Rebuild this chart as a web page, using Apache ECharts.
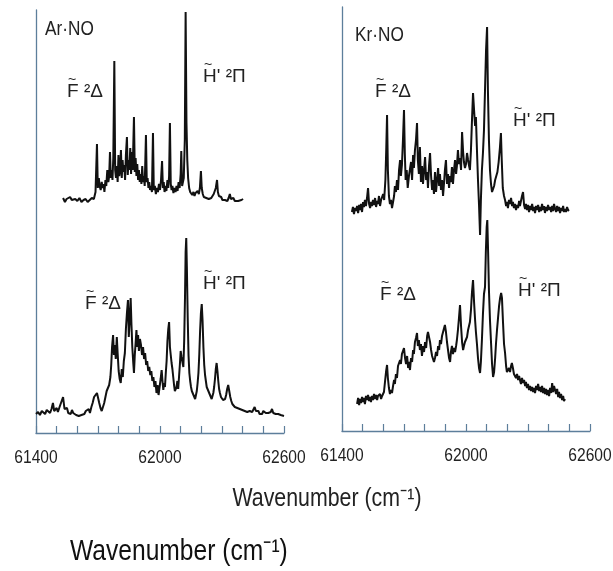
<!DOCTYPE html>
<html>
<head>
<meta charset="utf-8">
<script src="https://cdn.jsdelivr.net/npm/echarts@6/dist/echarts.min.js"></script>
<style>
  html, body { margin: 0; background: #fff; }
  #chart { width: 613px; height: 571px; }
</style>
</head>
<body>
<div id="chart"></div>
<script>
// wavenumber (cm-1) vs. signal (arbitrary units, 0 = trace baseline)
const tickLabels = [61400, 62000, 62600];

const arNoUpper = [
  [61531, 2], [61540, -2], [61548, 1], [61556, -1], [61565, 3], [61573, 0], [61582, -2], [61590, 1],
  [61600, -1], [61610, 2], [61620, -2], [61630, 0], [61640, 1], [61650, -2], [61660, 0], [61670, 2],
  [61680, 1], [61688, 8], [61695, 56], [61699, 12], [61704, 22], [61708, 14], [61713, 10], [61718, 18],
  [61722, 12], [61727, 16], [61731, 8], [61736, 20], [61740, 14], [61745, 30], [61750, 18], [61754, 24],
  [61758, 48], [61762, 22], [61766, 30], [61770, 20], [61774, 42], [61779, 139], [61783, 30], [61787, 22],
  [61791, 34], [61795, 18], [61799, 45], [61803, 24], [61807, 30], [61811, 50], [61815, 22], [61819, 40],
  [61823, 28], [61827, 35], [61831, 20], [61835, 45], [61840, 63], [61844, 25], [61848, 40], [61852, 30],
  [61856, 52], [61860, 26], [61864, 48], [61868, 30], [61874, 83], [61878, 28], [61882, 42], [61886, 24],
  [61890, 36], [61894, 20], [61898, 30], [61902, 18], [61906, 26], [61910, 16], [61914, 34], [61918, 18],
  [61922, 24], [61926, 14], [61932, 65], [61936, 18], [61940, 22], [61944, 12], [61948, 18], [61952, 10],
  [61956, 14], [61961, 8], [61966, 67], [61970, 10], [61975, 14], [61980, 6], [61985, 12], [61990, 8],
  [61995, 16], [62000, 10], [62005, 20], [62010, 39], [62014, 12], [62018, 18], [62022, 8], [62027, 14],
  [62031, 9], [62036, 20], [62040, 12], [62044, 24], [62048, 77], [62052, 16], [62056, 10], [62060, 14],
  [62065, 7], [62070, 12], [62075, 8], [62080, 14], [62085, 9], [62090, 18], [62095, 12], [62100, 26],
  [62103, 49], [62107, 14], [62111, 12], [62115, 22], [62120, 60], [62124, 188], [62128, 78], [62132, 40],
  [62136, 22], [62141, 12], [62146, 8], [62151, 10], [62156, 5], [62162, 8], [62167, 4], [62172, 7],
  [62177, 5], [62182, 9], [62188, 6], [62193, 12], [62198, 29], [62202, 12], [62207, 6], [62212, 3],
  [62218, 5], [62224, 2], [62230, 4], [62236, 1], [62242, 3], [62248, 2], [62254, 4], [62260, 6],
  [62265, 8], [62270, 12], [62276, 20], [62280, 8], [62285, 4], [62290, 2], [62296, 3], [62302, 0],
  [62308, 2], [62314, 0], [62320, 1], [62326, -1], [62332, 2], [62338, 6], [62343, 1], [62348, 0],
  [62355, 2], [62362, -1], [62370, 1], [62378, -1], [62386, 1], [62394, 0], [62402, 1]
];

const arNoLower = [
  [61400, 3], [61410, 5], [61419, 2], [61428, 6], [61436, 4], [61444, 3], [61452, 7], [61460, 5],
  [61468, 4], [61475, 8], [61482, 14], [61488, 6], [61494, 4], [61500, 9], [61506, 5], [61514, 10],
  [61522, 12], [61531, 20], [61538, 8], [61544, 6], [61550, 9], [61556, 4], [61562, 6], [61568, 3],
  [61574, 7], [61580, 4], [61587, 5], [61594, 2], [61600, 4], [61607, 1], [61613, 3], [61620, 2],
  [61627, 4], [61634, 3], [61641, 6], [61648, 4], [61655, 8], [61661, 4], [61668, 10], [61674, 14],
  [61681, 20], [61688, 18], [61695, 24], [61700, 22], [61706, 14], [61712, 9], [61718, 6], [61724, 8],
  [61730, 14], [61736, 20], [61742, 26], [61748, 24], [61754, 32], [61760, 40], [61764, 52], [61768, 70],
  [61773, 82], [61777, 62], [61781, 72], [61786, 58], [61791, 80], [61795, 64], [61800, 46], [61805, 38],
  [61810, 34], [61815, 48], [61820, 40], [61825, 56], [61830, 64], [61835, 88], [61840, 104], [61845, 117],
  [61849, 80], [61853, 96], [61858, 119], [61862, 92], [61866, 70], [61870, 56], [61874, 44], [61878, 62],
  [61882, 74], [61886, 87], [61890, 70], [61894, 82], [61898, 66], [61903, 78], [61908, 72], [61913, 62],
  [61918, 70], [61923, 58], [61928, 64], [61933, 52], [61938, 56], [61943, 46], [61948, 50], [61953, 42],
  [61958, 46], [61963, 36], [61968, 40], [61973, 30], [61978, 36], [61983, 24], [61988, 32], [61993, 22],
  [61998, 30], [62003, 38], [62008, 47], [62012, 36], [62016, 27], [62020, 34], [62024, 30], [62028, 44],
  [62032, 56], [62036, 76], [62040, 88], [62044, 95], [62048, 70], [62052, 62], [62056, 54], [62060, 48],
  [62064, 40], [62068, 32], [62072, 26], [62076, 24], [62080, 30], [62084, 36], [62088, 28], [62092, 40],
  [62096, 52], [62100, 66], [62104, 60], [62108, 62], [62113, 50], [62117, 76], [62121, 120], [62124, 165],
  [62127, 179], [62130, 150], [62134, 100], [62138, 62], [62142, 44], [62146, 36], [62150, 30], [62154, 26],
  [62158, 24], [62162, 22], [62166, 20], [62170, 18], [62174, 22], [62178, 26], [62182, 34], [62186, 44],
  [62190, 62], [62194, 86], [62198, 104], [62202, 113], [62206, 96], [62210, 70], [62214, 52], [62218, 42],
  [62222, 36], [62226, 30], [62230, 28], [62234, 26], [62238, 24], [62242, 22], [62246, 20], [62250, 18],
  [62254, 20], [62258, 24], [62262, 30], [62266, 38], [62270, 48], [62274, 54], [62278, 46], [62282, 36],
  [62286, 28], [62290, 24], [62295, 20], [62300, 18], [62305, 17], [62310, 16], [62315, 18], [62320, 22],
  [62325, 28], [62330, 32], [62335, 26], [62340, 20], [62345, 16], [62350, 13], [62356, 11], [62362, 10],
  [62368, 12], [62374, 9], [62380, 11], [62386, 8], [62392, 10], [62398, 7], [62404, 9], [62410, 6],
  [62416, 8], [62422, 5], [62428, 7], [62434, 6], [62440, 8], [62446, 5], [62452, 7], [62458, 10],
  [62464, 6], [62470, 4], [62476, 6], [62482, 3], [62488, 5], [62494, 3], [62500, 6], [62506, 8],
  [62512, 4], [62518, 2], [62524, 4], [62530, 2], [62536, 5], [62542, 8], [62548, 4], [62554, 2],
  [62560, 3], [62566, 1], [62572, 3], [62578, 1], [62584, 2], [62590, 0], [62600, 1]
];

const krNoUpper = [
  [61448, -2], [61453, 3], [61458, -4], [61463, 2], [61468, -1], [61473, 4], [61478, -3], [61483, 5],
  [61487, 0], [61492, 6], [61497, -2], [61502, 8], [61506, 3], [61511, 10], [61516, 4], [61521, 12],
  [61526, 22], [61531, 6], [61536, 2], [61541, 8], [61545, 4], [61550, 10], [61555, 5], [61560, 12],
  [61565, 3], [61570, 9], [61574, 6], [61579, 14], [61584, 4], [61589, 10], [61594, 8], [61599, 16],
  [61604, 10], [61610, 30], [61614, 60], [61618, 95], [61622, 40], [61627, 14], [61632, 6], [61637, 10],
  [61642, 2], [61647, 8], [61652, 14], [61656, 24], [61661, 18], [61666, 30], [61671, 20], [61676, 40],
  [61681, 50], [61685, 34], [61690, 45], [61695, 70], [61700, 100], [61704, 56], [61708, 30], [61713, 40],
  [61718, 22], [61724, 34], [61729, 33], [61734, 48], [61739, 30], [61744, 55], [61748, 42], [61753, 60],
  [61758, 70], [61763, 87], [61767, 50], [61772, 36], [61777, 63], [61782, 28], [61787, 44], [61792, 26],
  [61797, 40], [61802, 53], [61807, 30], [61812, 38], [61816, 22], [61821, 44], [61826, 57], [61831, 34],
  [61836, 20], [61840, 30], [61845, 16], [61850, 38], [61855, 18], [61860, 30], [61865, 42], [61870, 24],
  [61874, 36], [61879, 20], [61884, 30], [61889, 14], [61894, 28], [61898, 40], [61903, 50], [61908, 26],
  [61913, 36], [61918, 22], [61923, 34], [61927, 28], [61932, 43], [61937, 26], [61942, 40], [61947, 50],
  [61952, 36], [61956, 44], [61961, 60], [61966, 46], [61971, 52], [61976, 40], [61981, 78], [61986, 58],
  [61990, 48], [61995, 42], [62000, 46], [62005, 57], [62010, 50], [62015, 44], [62019, 40], [62024, 60],
  [62029, 90], [62034, 117], [62039, 100], [62044, 84], [62048, 93], [62053, 60], [62058, 30], [62063, 5],
  [62068, -25], [62072, 10], [62077, 40], [62082, 57], [62087, 80], [62092, 120], [62097, 160], [62102, 183],
  [62106, 120], [62111, 70], [62116, 40], [62121, 26], [62126, 18], [62131, 20], [62136, 24], [62141, 30],
  [62146, 28], [62152, 38], [62158, 48], [62164, 62], [62169, 77], [62173, 50], [62178, 22], [62184, 14],
  [62189, 10], [62194, 4], [62198, 8], [62203, 2], [62208, 10], [62213, 6], [62218, 12], [62223, 4],
  [62227, 8], [62232, 2], [62237, 6], [62242, 0], [62247, 5], [62252, 2], [62257, 9], [62261, 4],
  [62266, 6], [62271, 14], [62276, 18], [62281, 5], [62286, 1], [62290, 6], [62295, 0], [62300, 5],
  [62305, -2], [62310, 4], [62315, 0], [62320, 6], [62325, -1], [62330, 3], [62334, -3], [62339, 4],
  [62344, 0], [62349, 5], [62354, -2], [62358, 3], [62363, -1], [62368, 6], [62373, 0], [62378, 4],
  [62382, -3], [62387, 3], [62392, -1], [62397, 5], [62402, 0], [62407, 3], [62412, -2], [62417, 4],
  [62421, -1], [62426, 6], [62431, 1], [62436, -2], [62441, 4], [62446, -1], [62450, 3], [62455, -3],
  [62460, 2], [62465, -1], [62470, 4], [62474, -2], [62479, 1], [62484, -2], [62489, 3], [62494, 0],
  [62498, -1]
];

const krNoLower = [
  [61473, -2], [61478, 4], [61483, -3], [61487, 3], [61492, -1], [61497, 5], [61502, 0], [61506, 4],
  [61511, -2], [61516, 6], [61521, 2], [61526, 7], [61531, 1], [61535, 5], [61540, 0], [61545, 6],
  [61550, 2], [61555, 8], [61560, 3], [61565, 7], [61570, 2], [61574, 6], [61579, 4], [61584, 8],
  [61589, 3], [61594, 6], [61598, 4], [61603, 10], [61608, 20], [61613, 30], [61618, 37], [61622, 24],
  [61627, 14], [61632, 8], [61637, 12], [61642, 9], [61647, 16], [61652, 22], [61656, 18], [61661, 28],
  [61666, 24], [61671, 36], [61676, 34], [61681, 42], [61685, 38], [61690, 48], [61695, 46], [61700, 54],
  [61705, 44], [61710, 38], [61715, 46], [61720, 34], [61724, 40], [61729, 32], [61734, 44], [61739, 40],
  [61744, 52], [61748, 48], [61753, 60], [61758, 64], [61763, 69], [61767, 56], [61772, 62], [61777, 52],
  [61782, 58], [61787, 46], [61792, 56], [61797, 50], [61802, 60], [61807, 54], [61812, 66], [61816, 70],
  [61821, 72], [61826, 60], [61831, 52], [61836, 46], [61840, 48], [61845, 40], [61850, 44], [61855, 50],
  [61860, 46], [61865, 56], [61870, 52], [61874, 62], [61879, 58], [61884, 66], [61889, 70], [61894, 74],
  [61898, 77], [61903, 70], [61908, 60], [61913, 52], [61918, 44], [61923, 40], [61927, 50], [61932, 56],
  [61937, 48], [61942, 54], [61947, 50], [61952, 56], [61956, 62], [61961, 72], [61966, 84], [61971, 97],
  [61976, 76], [61981, 60], [61986, 52], [61990, 56], [61995, 60], [62000, 62], [62005, 65], [62010, 72],
  [62015, 70], [62019, 80], [62024, 92], [62029, 110], [62034, 122], [62039, 100], [62044, 82], [62048, 70],
  [62053, 58], [62058, 44], [62063, 34], [62068, 29], [62072, 40], [62077, 62], [62082, 88], [62087, 108],
  [62092, 115], [62096, 150], [62100, 175], [62103, 182], [62107, 150], [62111, 112], [62116, 82], [62121, 60],
  [62126, 38], [62131, 25], [62136, 30], [62141, 44], [62145, 58], [62150, 72], [62155, 84], [62160, 96],
  [62165, 104], [62170, 109], [62174, 104], [62179, 80], [62184, 58], [62189, 49], [62194, 36], [62198, 30],
  [62203, 29], [62208, 34], [62213, 30], [62218, 36], [62222, 39], [62227, 34], [62232, 28], [62237, 30],
  [62242, 24], [62247, 28], [62252, 22], [62257, 26], [62261, 22], [62266, 18], [62271, 24], [62276, 19],
  [62281, 22], [62286, 16], [62290, 20], [62295, 14], [62300, 18], [62305, 12], [62310, 16], [62315, 11],
  [62320, 15], [62325, 10], [62330, 14], [62334, 9], [62339, 16], [62344, 12], [62349, 18], [62354, 11],
  [62358, 15], [62363, 10], [62368, 16], [62373, 9], [62378, 14], [62382, 8], [62387, 13], [62392, 7],
  [62397, 12], [62402, 6], [62407, 14], [62412, 9], [62417, 19], [62421, 10], [62426, 16], [62431, 12],
  [62436, 8], [62441, 13], [62446, 5], [62450, 10], [62455, 4], [62460, 8], [62465, 2], [62470, 6],
  [62474, 1], [62479, 3]
];

const axisColor = "#5d7e9b";
const font = '"Liberation Sans", Arial, sans-serif';

const chart = echarts.init(document.getElementById("chart"));

// one grid per trace; the two traces of a panel share the same box
const panels = [
  { left: 36, top: 10, height: 423 },
  { left: 342, top: 7, height: 424 },
];
const traces = [
  { data: arNoUpper, panel: 0, min: -233, axes: false },
  { data: arNoLower, panel: 0, min: -16, axes: true },
  { data: krNoUpper, panel: 1, min: -221, axes: false },
  { data: krNoLower, panel: 1, min: -29, axes: true },
];

const option = {
  animation: false,
  backgroundColor: "#fff",
  grid: traces.map((t) => ({
    left: panels[t.panel].left,
    top: panels[t.panel].top,
    width: 248,
    height: panels[t.panel].height,
  })),
  xAxis: traces.map((t, i) => ({
    type: "value",
    gridIndex: i,
    min: 61400,
    max: 62600,
    interval: 100,
    show: t.axes,
    axisLine: { onZero: false, lineStyle: { color: axisColor, width: 1.3 } },
    axisTick: { inside: true, length: 7, lineStyle: { color: axisColor, width: 1.2 } },
    axisLabel: { show: false },
    splitLine: { show: false },
  })),
  yAxis: traces.map((t, i) => ({
    type: "value",
    gridIndex: i,
    min: t.min,
    max: t.min + panels[t.panel].height,
    show: t.axes,
    axisLine: { show: true, lineStyle: { color: axisColor, width: 1.3 } },
    axisTick: { show: false },
    axisLabel: { show: false },
    splitLine: { show: false },
  })),
  series: traces.map((t, i) => ({
    type: "line",
    xAxisIndex: i,
    yAxisIndex: i,
    data: t.data,
    showSymbol: false,
    lineStyle: { color: "#111", width: 2 },
  })),
};

chart.setOption(option);

// the original lettering is tall and narrow, so texts are squeezed sideways
function text(x, y, str, size, extra) {
  return {
    type: "text", x: x, y: y, scaleX: 0.82,
    style: Object.assign({ text: str, font: size + "px " + font, fill: "#222", textVerticalAlign: "top" }, extra || {}),
  };
}

// state labels: letter with a tilde, then the term symbol
function stateLabel(x, y, letter, rest) {
  return [
    { type: "text", x: x, y: y, style: { text: letter + rest, font: "19px " + font, fill: "#222", textVerticalAlign: "top" } },
    { type: "text", x: x + 1, y: y - 9, style: { text: "~", font: "14px " + font, fill: "#222", textVerticalAlign: "top" } },
  ];
}

const graphic = [
  text(45, 19, "Ar\u00b7NO", 21),
  text(355, 25, "Kr\u00b7NO", 21),
  ...stateLabel(67, 82, "F", " \u00b2\u0394"),
  ...stateLabel(203, 67, "H", "' \u00b2\u03a0"),
  ...stateLabel(85, 294, "F", " \u00b2\u0394"),
  ...stateLabel(203, 274, "H", "' \u00b2\u03a0"),
  ...stateLabel(375, 82, "F", " \u00b2\u0394"),
  ...stateLabel(513, 111, "H", "' \u00b2\u03a0"),
  ...stateLabel(380, 285, "F", " \u00b2\u0394"),
  ...stateLabel(518, 281, "H", "' \u00b2\u03a0"),
  text(327, 499, "Wavenumber (cm\u207b\u00b9)", 26, { textAlign: "center", textVerticalAlign: "middle" }),
  text(70, 552, "Wavenumber (cm\u207b\u00b9)", 30, { fill: "#111", textVerticalAlign: "middle" }),
];

// tick labels placed through each panel's own x axis
[1, 3].forEach((i) => {
  tickLabels.forEach((v) => {
    const p = chart.convertToPixel({ xAxisIndex: i, yAxisIndex: i }, [v, traces[i].min]);
    graphic.push(text(p[0], p[1] + 25, String(v), 19, { textAlign: "center", textVerticalAlign: "middle" }));
  });
});

chart.setOption({ graphic: graphic });
</script>
</body>
</html>
